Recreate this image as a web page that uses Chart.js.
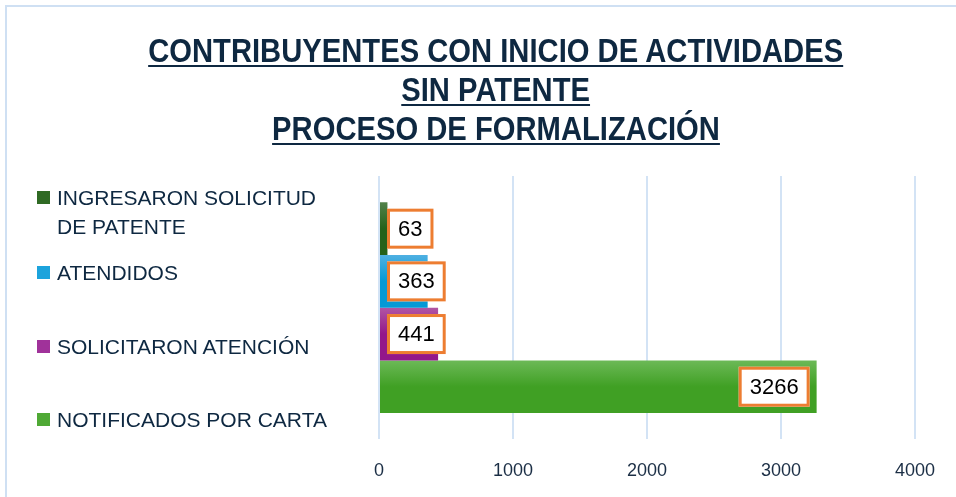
<!DOCTYPE html>
<html><head><meta charset="utf-8">
<script src="https://cdn.jsdelivr.net/npm/chart.js@4/dist/chart.umd.min.js"></script>
<style>
html,body{margin:0;padding:0;background:#fff;}
#wrap{position:relative;width:956px;height:497px;overflow:hidden;background:#fff;}
#frame{position:absolute;left:5px;top:5px;width:1000px;height:600px;border-left:2px solid #cfe0f3;border-top:2px solid #cfe0f3;}
#title{position:absolute;left:0;top:31px;width:992px;text-align:center;font-family:"Liberation Sans",Arial,sans-serif;font-weight:bold;font-size:33px;line-height:39px;color:#0e2841;}
#title span{display:inline-block;transform:scaleX(0.885);transform-origin:50% 50%;text-decoration:underline;text-decoration-thickness:2px;text-underline-offset:3px;white-space:nowrap;}
#chart{position:absolute;left:0;top:0;}
.item{position:absolute;left:37px;font-family:"Liberation Sans",Arial,sans-serif;font-size:21px;line-height:29px;color:#0e2841;}
.item .sw{position:absolute;left:0;top:8px;width:13px;height:13px;}
.item .tx{display:block;margin-left:20px;width:285px;}
</style></head>
<body>
<div id="wrap">
  <div id="frame"></div>
  <canvas id="chart" width="956" height="497"></canvas>
  <div id="title"><span>CONTRIBUYENTES CON INICIO DE ACTIVIDADES</span><br><span>SIN PATENTE</span><br><span>PROCESO DE FORMALIZACIÓN</span></div>
  <div id="legend"></div>
</div>
<script>
const categories = [''];
const seriesLabels = ['INGRESARON SOLICITUD DE PATENTE', 'ATENDIDOS', 'SOLICITARON ATENCIÓN', 'NOTIFICADOS POR CARTA'];
const seriesValues = [63, 363, 441, 3266];
const xTicks = [0, 1000, 2000, 3000, 4000];

const gradTop = ['#52824a', '#4fb0e2', '#b155a3', '#6cb957'];
const gradBottom = ['#25611a', '#0499d6', '#93178a', '#40a024'];
const swatch = ['#2f6a24', '#1ca3dc', '#a0329a', '#4fa935'];
const legendTops = [183, 258, 332, 405];

const legend = document.getElementById('legend');
seriesLabels.forEach((l, i) => {
  const d = document.createElement('div');
  d.className = 'item';
  d.style.top = legendTops[i] + 'px';
  d.innerHTML = '<span class="sw" style="background:' + swatch[i] + '"></span><span class="tx"></span>';
  d.querySelector('.tx').textContent = l;
  legend.appendChild(d);
});

const gradientPlugin = {
  id: 'grad',
  beforeDatasetsDraw(chart) {
    const ctx = chart.ctx;
    chart.data.datasets.forEach((ds, i) => {
      const meta = chart.getDatasetMeta(i);
      meta.data.forEach(el => {
        const g = ctx.createLinearGradient(0, el.y - el.height / 2, 0, el.y + el.height / 2);
        g.addColorStop(0, gradTop[i]);
        g.addColorStop(0.5, gradBottom[i]);
        g.addColorStop(1, gradBottom[i]);
        el.options.backgroundColor = g;
      });
    });
  }
};

const labelPlugin = {
  id: 'boxlabels',
  afterDatasetsDraw(chart) {
    const ctx = chart.ctx;
    ctx.save();
    ctx.font = '22px "Liberation Sans", Arial, sans-serif';
    ctx.textBaseline = 'middle';
    ctx.textAlign = 'center';
    chart.data.datasets.forEach((ds, i) => {
      const meta = chart.getDatasetMeta(i);
      meta.data.forEach((el, j) => {
        const txt = String(ds.data[j]);
        const tw = ctx.measureText(txt).width;
        const w = tw + 22, h = 40;
        const barLen = el.x - el.base;
        let left;
        if (barLen > w + 14) left = el.x - 7 - w; else left = el.base + 7;
        const top = el.y - h / 2;
        ctx.fillStyle = '#ffffff';
        ctx.fillRect(left, top, w, h);
        ctx.strokeStyle = '#ed7d31';
        ctx.lineWidth = 3;
        ctx.strokeRect(left + 1.5, top + 1.5, w - 3, h - 3);
        ctx.fillStyle = '#000000';
        ctx.fillText(txt, left + w / 2, el.y + 1);
      });
    });
    ctx.restore();
  }
};

new Chart(document.getElementById('chart'), {
  type: 'bar',
  data: {
    labels: categories,
    datasets: seriesLabels.map((l, i) => ({
      label: l,
      data: [seriesValues[i]],
      backgroundColor: swatch[i],
      borderWidth: 0,
      categoryPercentage: 0.8,
      barPercentage: 1
    }))
  },
  options: {
    indexAxis: 'y',
    responsive: false,
    animation: false,
    layout: { padding: { left: 379, right: 41, top: 176, bottom: -6 } },
    plugins: { legend: { display: false }, tooltip: { enabled: false }, title: { display: false } },
    scales: {
      x: {
        min: xTicks[0], max: xTicks[xTicks.length - 1],
        afterBuildTicks(axis) { axis.ticks = xTicks.map(v => ({ value: v })); },
        grid: { color: '#d3e3f5', lineWidth: 2, drawTicks: false },
        border: { display: false },
        ticks: { padding: 21, color: '#1b2e45', font: { family: '"Liberation Sans", Arial, sans-serif', size: 18 }, maxRotation: 0,
                 callback: (v) => String(v) }
      },
      y: { display: false }
    }
  },
  plugins: [gradientPlugin, labelPlugin]
});
</script>
</body></html>
